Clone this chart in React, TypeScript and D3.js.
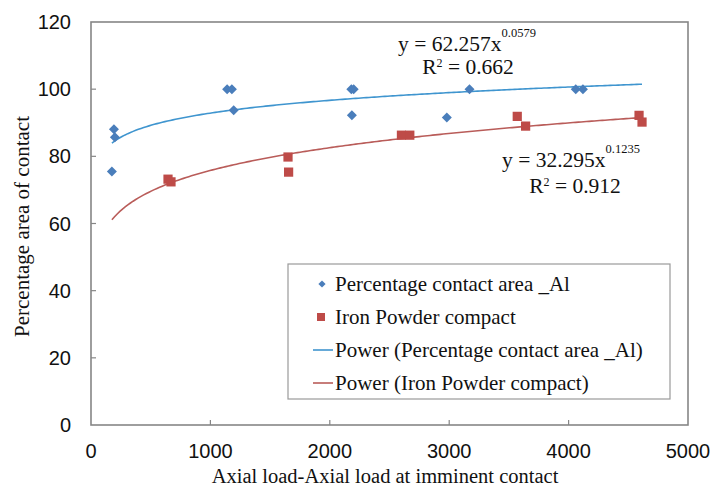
import * as d3 from 'd3'
import { useEffect, useRef } from 'react'

// percentage contact area _Al
const alLoad = [175, 192, 200, 1140, 1180, 1195, 2180, 2200, 2185, 2980, 3170, 4060, 4120]
const alArea = [75.5, 88.1, 85.7, 100, 100, 93.7, 100, 100, 92.2, 91.6, 100, 100, 100]

// iron powder compact
const ironLoad = [645, 670, 1650, 1655, 2600, 2670, 3570, 3640, 4590, 4615]
const ironArea = [73.2, 72.4, 79.8, 75.3, 86.3, 86.3, 91.9, 89.0, 92.2, 90.2]

// power trendlines y = a * x^b
const fitA = [62.257, 32.295]
const fitB = [0.0579, 0.1235]
const fitR2 = ['0.662', '0.912']

const xTicks = [0, 1000, 2000, 3000, 4000, 5000]
const yTicks = [0, 20, 40, 60, 80, 100, 120]

const legendLabels = [
    'Percentage contact area _Al',
    'Iron Powder compact',
    'Power (Percentage contact area _Al)',
    'Power (Iron Powder compact)'
]

const App = () => {
    const svgRef = useRef<SVGSVGElement>(null)

    useEffect(() => {
        const w = 710
        const h = 488
        const m = { top: 22, right: 22, bottom: 63, left: 91 }

        const svg = d3.select(svgRef.current).attr('width', w).attr('height', h)
        svg.selectAll('*').remove()

        const x = d3.scaleLinear().domain([0, 5000]).range([m.left, w - m.right])
        const y = d3.scaleLinear().domain([0, 120]).range([h - m.bottom, m.top])

        const serif = '"Liberation Serif", "Times New Roman", serif'
        const sans = '"Liberation Sans", Arial, sans-serif'
        const frame = '#868686'

        const blueMark = '#4a7ebb'
        const redMark = '#be4b48'
        const blueLine = '#3f95cf'
        const redLine = '#b95c59'

        svg.append('rect').attr('width', w).attr('height', h).attr('fill', '#fff')

        // plot frame
        svg.append('rect')
            .attr('x', x(0)).attr('y', y(120))
            .attr('width', x(5000) - x(0)).attr('height', y(0) - y(120))
            .attr('fill', 'none').attr('stroke', frame).attr('stroke-width', 1.6)

        // inward ticks
        svg.selectAll().data(yTicks.slice(1, -1)).join('line')
            .attr('x1', x(0)).attr('x2', x(0) + 5)
            .attr('y1', d => y(d)).attr('y2', d => y(d))
            .attr('stroke', frame).attr('stroke-width', 1.2)
        svg.selectAll().data(xTicks.slice(1, -1)).join('line')
            .attr('x1', d => x(d)).attr('x2', d => x(d))
            .attr('y1', y(0)).attr('y2', y(0) - 5)
            .attr('stroke', frame).attr('stroke-width', 1.2)

        // tick labels
        svg.selectAll().data(yTicks).join('text')
            .attr('x', x(0) - 20).attr('y', d => y(d) + 7)
            .attr('text-anchor', 'end').attr('font-family', sans).attr('font-size', 20)
            .attr('fill', '#111').text(d => d)
        svg.selectAll().data(xTicks).join('text')
            .attr('x', d => x(d)).attr('y', y(0) + 33)
            .attr('text-anchor', 'middle').attr('font-family', sans).attr('font-size', 20)
            .attr('fill', '#111').text(d => d)

        // axis titles
        svg.append('text')
            .attr('x', 385).attr('y', 483)
            .attr('text-anchor', 'middle').attr('font-family', serif).attr('font-size', 20.5)
            .attr('fill', '#111').text('Axial load-Axial load at imminent contact')
        svg.append('text')
            .attr('transform', `translate(29, ${(y(0) + y(120)) / 2 + 3}) rotate(-90)`)
            .attr('text-anchor', 'middle').attr('font-family', serif).attr('font-size', 21)
            .attr('fill', '#111').text('Percentage area of contact')

        // trendlines
        const loadMin = d3.min([...alLoad, ...ironLoad]) as number
        const loadMax = d3.max([...alLoad, ...ironLoad]) as number
        const xs = d3.range(0, 201).map(i => loadMin + (loadMax - loadMin) * i / 200)
        const line = d3.line<[number, number]>().x(d => x(d[0])).y(d => y(d[1]))
        const lineColors = [blueLine, redLine]
        fitA.forEach((a, i) => {
            svg.append('path')
                .attr('d', line(xs.map(v => [v, a * Math.pow(v, fitB[i])])))
                .attr('fill', 'none').attr('stroke', lineColors[i]).attr('stroke-width', 1.6)
        })

        // points
        const diamond = d3.symbol().type(d3.symbolSquare).size(50)
        const square = d3.symbol().type(d3.symbolSquare).size(85)
        svg.selectAll().data(alLoad.map((v, i) => [v, alArea[i]])).join('path')
            .attr('d', diamond)
            .attr('transform', d => `translate(${x(d[0])},${y(d[1])}) rotate(45)`)
            .attr('fill', blueMark)
        svg.selectAll().data(ironLoad.map((v, i) => [v, ironArea[i]])).join('path')
            .attr('d', square)
            .attr('transform', d => `translate(${x(d[0])},${y(d[1])})`)
            .attr('fill', redMark)

        // equations: [x start of first line, baseline 1, baseline 2, centre of R2 line]
        const eqPos = [[398, 51, 74, 468], [502, 167, 193, 575]]
        fitA.forEach((a, i) => {
            const [x0, y1, y2, cx] = eqPos[i]
            const t1 = svg.append('text')
                .attr('x', x0).attr('y', y1)
                .attr('font-family', serif).attr('font-size', 21.5).attr('fill', '#111')
            t1.append('tspan').text(`y = ${a}x`)
            t1.append('tspan').attr('font-size', 12.5).attr('dy', -14).text(`${fitB[i]}`)
            const t2 = svg.append('text')
                .attr('x', cx).attr('y', y2).attr('text-anchor', 'middle')
                .attr('font-family', serif).attr('font-size', 21.5).attr('fill', '#111')
            t2.append('tspan').text('R')
            t2.append('tspan').attr('font-size', 12).attr('dy', -7).text('2')
            t2.append('tspan').attr('dy', 7).text(` = ${fitR2[i]}`)
        })

        // legend
        const lg = svg.append('g')
        lg.append('rect').attr('x', 288).attr('y', 264).attr('width', 382).attr('height', 135)
            .attr('fill', '#fff').attr('stroke', '#9a9a9a').attr('stroke-width', 1.2)
        const rowY = (i: number) => 284 + i * 33
        lg.append('path').attr('d', d3.symbol().type(d3.symbolSquare).size(26)())
            .attr('transform', `translate(322,${rowY(0)}) rotate(45)`).attr('fill', blueMark)
        lg.append('path').attr('d', d3.symbol().type(d3.symbolSquare).size(64)())
            .attr('transform', `translate(321,${rowY(1)})`).attr('fill', redMark)
        lg.selectAll().data(lineColors).join('line')
            .attr('x1', 313).attr('x2', 333)
            .attr('y1', (d, i) => rowY(i + 2)).attr('y2', (d, i) => rowY(i + 2))
            .attr('stroke', d => d).attr('stroke-width', 1.6)
        lg.selectAll().data(legendLabels).join('text')
            .attr('x', 335).attr('y', (d, i) => rowY(i) + 7)
            .attr('font-family', serif).attr('font-size', 21).attr('fill', '#111')
            .text(d => d)
    }, [])

    return (
        <div>
            <svg ref={svgRef} style={{ position: 'absolute', left: 0, top: 0 }}></svg>
        </div>
    )
}

export default App
